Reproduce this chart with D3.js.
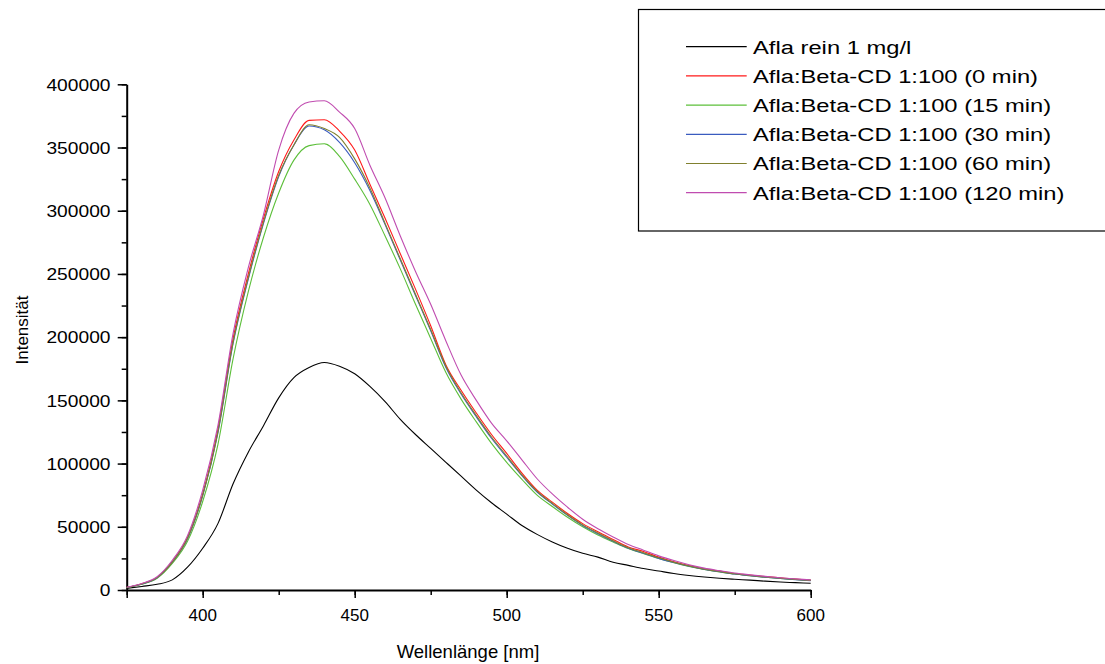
<!DOCTYPE html>
<html>
<head>
<meta charset="utf-8">
<script src="https://cdn.jsdelivr.net/npm/d3@7"></script>
<style>
  body { margin: 0; background: #fff; }
  text { font-family: "Liberation Sans", Arial, sans-serif; fill: #000; }
</style>
</head>
<body>
<svg class="chart" width="1105" height="664"></svg>
<script>
// wavelength grid, 5 nm steps
const wavelengths = d3.range(375, 601, 5);

const afla = [1300, 2800, 4500, 8000, 18000, 33000, 52500, 84000, 109000, 130000,
  152000, 168000, 176000, 180000, 177000, 171000, 161000, 149000, 135000, 123000,
  112000, 101000, 90000, 79000, 69000, 60000, 51000, 44000, 38000, 33000,
  29000, 26000, 22000, 19500, 17000, 15000, 13000, 11500, 10300, 9300,
  8500, 7800, 7000, 6300, 5800, 5300];

const cd0 = [2100, 5000, 10000, 22500, 41500, 76000, 127000, 199000, 250000, 294000,
  331000, 356000, 371500, 372000, 363000, 348000, 321000, 294000, 266000, 238000,
  209000, 178000, 158000, 140000, 123000, 108000, 92500, 79000, 69500, 60500,
  52500, 46000, 40000, 34000, 30500, 26000, 22300, 19300, 16700, 14900,
  13000, 11800, 10600, 9600, 8600, 7800];

const cd15 = [1900, 4500, 9300, 21000, 38500, 70000, 115000, 183000, 236000, 279000,
  314000, 340000, 351500, 353000, 343000, 325000, 305000, 280000, 254000, 226000,
  199000, 172000, 151000, 133000, 116000, 101000, 87500, 75000, 66000, 57500,
  50000, 43500, 38000, 32800, 28800, 25000, 21600, 18700, 16300, 14300,
  12600, 11300, 10100, 9100, 8300, 7600];

const cd30 = [2000, 4700, 9700, 22000, 40500, 74500, 124000, 195000, 246000, 290000,
  327000, 352000, 367000, 364000, 354000, 338000, 316000, 289000, 261000, 233000,
  205000, 176000, 155000, 137000, 120000, 105000, 90500, 77500, 68000, 59000,
  51000, 44500, 38500, 33000, 29000, 25000, 21700, 18800, 16300, 14400,
  12600, 11300, 10100, 9100, 8200, 7400];

const cd60 = [2000, 4800, 9800, 22000, 41000, 75000, 125000, 196000, 247000, 291000,
  328000, 352000, 368000, 365000, 358000, 341000, 318000, 290000, 262000, 234000,
  206000, 177000, 156000, 138000, 121000, 106000, 91000, 78000, 68500, 59500,
  51500, 45000, 39000, 33500, 29500, 25500, 22000, 19000, 16500, 14600,
  12800, 11500, 10300, 9300, 8400, 7600];

const cd120 = [2200, 5200, 10500, 23500, 43000, 79000, 130000, 203000, 255000, 297000,
  348000, 377000, 386000, 387000, 378000, 365000, 336000, 310000, 280000, 252000,
  226000, 197000, 170000, 150000, 132000, 118000, 103000, 88000, 76000, 65500,
  56000, 48500, 42000, 36000, 31500, 27000, 23300, 20000, 17300, 15300,
  13400, 12000, 10800, 9700, 8800, 8000];

const seriesNames = ["Afla rein 1 mg/l", "Afla:Beta-CD 1:100 (0 min)", "Afla:Beta-CD 1:100 (15 min)",
  "Afla:Beta-CD 1:100 (30 min)", "Afla:Beta-CD 1:100 (60 min)", "Afla:Beta-CD 1:100 (120 min)"];
const seriesColors = ["#000000", "#ff1a1a", "#5cbf3a", "#3a5bbf", "#80802e", "#c04cb0"];
const seriesValues = [afla, cd0, cd15, cd30, cd60, cd120];

const xTicks = [400, 450, 500, 550, 600];
const yTicks = [0, 50000, 100000, 150000, 200000, 250000, 300000, 350000, 400000];

const svg = d3.select(".chart");

const x = d3.scaleLinear().domain([375, 600]).range([126.7, 810.7]);
const y = d3.scaleLinear().domain([0, 400000]).range([590, 84.3]);

// minor ticks
svg.append("g")
    .attr("transform", "translate(0,590)")
    .call(d3.axisBottom(x).tickValues(d3.range(375, 601, 25)).tickSize(5).tickSizeOuter(0).tickFormat(""))
    .call(g => g.select(".domain").remove())
    .selectAll("line").attr("stroke-width", 1.5);
svg.append("g")
    .attr("transform", "translate(126.7,0)")
    .call(d3.axisLeft(y).tickValues(d3.range(0, 400001, 25000)).tickSize(5).tickSizeOuter(0).tickFormat(""))
    .call(g => g.select(".domain").remove())
    .selectAll("line").attr("stroke-width", 1.5);

// major ticks + axis lines
const xAxis = svg.append("g")
    .attr("transform", "translate(0,590)")
    .call(d3.axisBottom(x).tickValues([375].concat(xTicks)).tickSize(8).tickSizeOuter(0).tickFormat(""));
const yAxis = svg.append("g")
    .attr("transform", "translate(126.7,0)")
    .call(d3.axisLeft(y).tickValues(yTicks).tickSize(9).tickSizeOuter(0).tickFormat(""));
[xAxis, yAxis].forEach(g => {
  g.select(".domain").attr("stroke-width", 2);
  g.selectAll(".tick line").attr("stroke-width", 1.5);
});

// tick labels
svg.append("g").selectAll("text").data(xTicks).join("text")
    .attr("x", d => x(d)).attr("y", 621)
    .attr("text-anchor", "middle")
    .attr("font-size", 17)
    .text(d => d);
svg.append("g").selectAll("text").data(yTicks).join("text")
    .attr("transform", d => `translate(110.5,${y(d) + 6.3}) scale(1.13,1)`)
    .attr("text-anchor", "end")
    .attr("font-size", 17)
    .text(d => d);

// axis titles
svg.append("text")
    .attr("x", 468).attr("y", 658)
    .attr("text-anchor", "middle")
    .attr("font-size", 18.5)
    .text("Wellenlänge [nm]");
svg.append("text")
    .attr("transform", "translate(28,330) rotate(-90)")
    .attr("text-anchor", "middle")
    .attr("font-size", 17)
    .text("Intensität");

// curves
const line = d3.line()
    .x((d, i) => x(wavelengths[i]))
    .y(d => y(d))
    .curve(d3.curveMonotoneX);

svg.append("g").selectAll("path").data(seriesValues).join("path")
    .attr("d", line)
    .attr("fill", "none")
    .attr("stroke", (d, i) => seriesColors[i])
    .attr("stroke-width", 1.1);

// legend
const legend = svg.append("g");
legend.append("rect")
    .attr("x", 638.5).attr("y", 9.5)
    .attr("width", 480).attr("height", 221.5)
    .attr("fill", "#fff").attr("stroke", "#000").attr("stroke-width", 1.2);
const rows = legend.selectAll("g.row").data(seriesNames).join("g")
    .attr("class", "row")
    .attr("transform", (d, i) => `translate(0,${46.7 + i * 29.2})`);
rows.append("line")
    .attr("x1", 686).attr("x2", 746.7)
    .attr("stroke", (d, i) => seriesColors[i])
    .attr("stroke-width", 1.2);
rows.append("text")
    .attr("transform", "translate(753,6.8) scale(1.32,1)")
    .attr("font-size", 18)
    .text(d => d);
</script>
</body>
</html>
